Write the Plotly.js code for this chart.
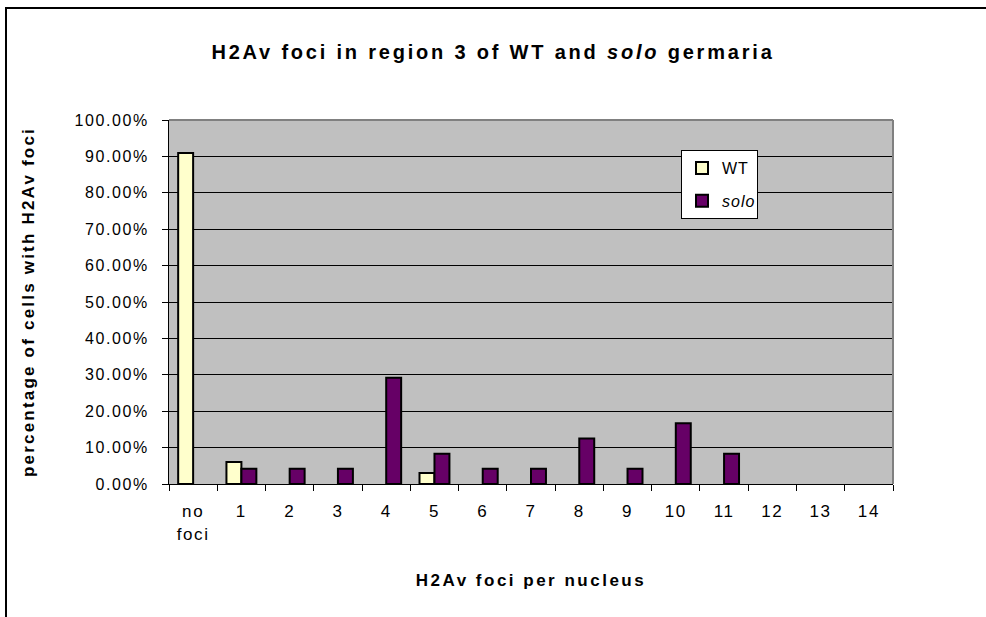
<!DOCTYPE html>
<html>
<head>
<meta charset="utf-8">
<script src="https://cdn.plot.ly/plotly-3.0.1.min.js"></script>
<style>
  html, body { margin: 0; padding: 0; background: #fff; }
  #wrap { position: relative; width: 986px; height: 617px; }
  #chart { position: absolute; left: 0; top: 0; width: 986px; height: 617px; }
  #frame { position: absolute; left: 5px; top: 7px; width: 990px; height: 620px;
           border-left: 2px solid #000; border-top: 2px solid #000; pointer-events: none; }
  #chart .xtick text, #chart .ytick text { letter-spacing: 1.6px; }
  #chart .legendtext { letter-spacing: 1px; }
  #chart .gtitle { letter-spacing: 2.8px; }
  #chart .xtitle { letter-spacing: 2.5px; }
  #chart .ytitle { letter-spacing: 2.2px; }
</style>
</head>
<body>
<div id="wrap">
  <div id="chart"></div>
  <div id="frame"></div>
</div>
<script>
const categories = ["no<br>foci", "1", "2", "3", "4", "5", "6", "7", "8", "9", "10", "11", "12", "13", "14"];
const wtValues   = [90.91, 6.06, 0, 0, 0, 3.03, 0, 0, 0, 0, 0, 0, 0, 0, 0];
const soloValues = [0, 4.17, 4.17, 4.17, 29.17, 8.33, 4.17, 4.17, 12.50, 4.17, 16.67, 8.33, 0, 0, 0];
const yTickValues = [0, 10, 20, 30, 40, 50, 60, 70, 80, 90, 100];
const yTickLabels = yTickValues.map(v => v.toFixed(2) + "%");

const font = "Liberation Sans, Arial, sans-serif";
// zero-height bars are not drawn in the original (no outline at baseline)
const hideZero = arr => arr.map(v => (v === 0 ? null : v));

const traces = [
  {
    type: "bar", name: "WT", legendgroup: "wt", x: categories, y: hideZero(wtValues),
    marker: { color: "#FFFFCC", line: { color: "#000000", width: 2 } },
    hoverinfo: "skip"
  },
  {
    type: "bar", name: "<i>solo</i>", legendgroup: "solo", x: categories, y: hideZero(soloValues),
    marker: { color: "#660066", line: { color: "#000000", width: 2 } },
    hoverinfo: "skip"
  }
];

const layout = {
  width: 986, height: 617,
  margin: { l: 169, r: 93, t: 120, b: 133 },
  paper_bgcolor: "#ffffff",
  plot_bgcolor: "#c0c0c0",
  font: { family: font, size: 16, color: "#000" },
  title: {
    text: "<b>H2Av foci in region 3 of WT and <i>solo</i> germaria</b>",
    font: { family: font, size: 20, color: "#000" },
    x: 0.5, xanchor: "center", y: 1 - 52 / 617, yanchor: "middle"
  },
  barmode: "group",
  bargap: 0.38,
  bargroupgap: 0,
  showlegend: true,
  legend: {
    x: (681 - 169) / 724, y: (484 - 150) / 364,
    xanchor: "left", yanchor: "top",
    bgcolor: "#ffffff", bordercolor: "#000000", borderwidth: 1,
    font: { family: font, size: 16, color: "#000" },
    itemwidth: 30, tracegroupgap: 9
  },
  xaxis: {
    type: "category",
    tickson: "boundaries",
    ticks: "outside", ticklen: 6, tickcolor: "#000", tickwidth: 1,
    ticklabelstandoff: 12,
    showline: true, linecolor: "#000", linewidth: 1,
    showgrid: false, zeroline: false,
    tickfont: { family: font, size: 17, color: "#000" },
    title: { text: "<b>H2Av foci per nucleus</b>", font: { family: font, size: 17, color: "#000" }, standoff: 31 },
    fixedrange: true
  },
  yaxis: {
    range: [0, 100],
    tickvals: yTickValues,
    ticktext: yTickLabels,
    ticks: "outside", ticklen: 6, tickcolor: "#000", tickwidth: 1,
    ticklabelstandoff: 10,
    showline: true, linecolor: "#000", linewidth: 1,
    showgrid: true, gridcolor: "#000", gridwidth: 1,
    zeroline: false,
    tickfont: { family: font, size: 16, color: "#000" },
    title: { text: "<b>percentage of cells with H2Av foci</b>", font: { family: font, size: 17, color: "#000" }, standoff: 46 },
    fixedrange: true
  },
  shapes: [
    { type: "line", xref: "paper", yref: "paper", x0: 0, x1: 1, y0: 1, y1: 1, line: { color: "#808080", width: 2 } },
    { type: "line", xref: "paper", yref: "paper", x0: 1, x1: 1, y0: 0, y1: 1, line: { color: "#808080", width: 2 } }
  ]
};

Plotly.newPlot("chart", traces, layout, { displayModeBar: false, staticPlot: true });
</script>
</body>
</html>
